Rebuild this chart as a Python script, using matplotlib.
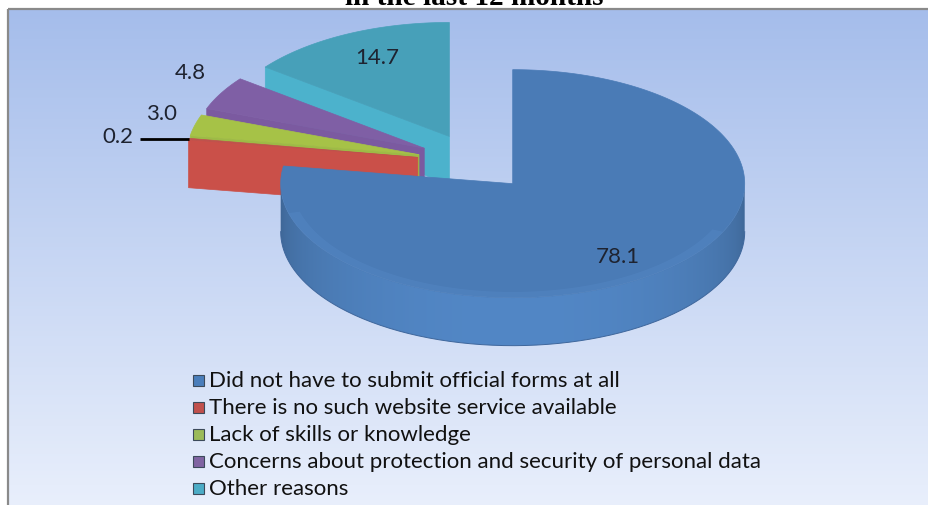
import numpy as np
import matplotlib
matplotlib.use("Agg")
import matplotlib.pyplot as plt
from matplotlib.patches import Polygon, Rectangle
from matplotlib.colors import to_rgb

# ---------------- data ----------------
categories = [
    "Did not have to submit official forms at all",
    "There is no such website service available",
    "Lack of skills or knowledge",
    "Concerns about protection and security of personal data",
    "Other reasons",
]
values = [78.1, 0.2, 3.0, 4.8, 14.7]
value_labels = ["78.1", "0.2", "3.0", "4.8", "14.7"]
title_text = "in the last 12 months"

# ---------------- style / layout ----------------
top_colors = ["#4A7BB6", "#C0504D", "#A6C247", "#7F5FA5", "#47A0B9"]
face_colors = ["#3F6CA6", "#CA5049", "#9DBA46", "#7B5AA0", "#4CB2CC"]
rim_center = ["#5287C6", "#C9504A", "#A0BD48", "#7C5DA2", "#4CB2CC"]
legend_colors = ["#4A7EBB", "#C0504D", "#9BBB59", "#8064A2", "#4BACC6"]

W, H = 929, 506
CX, CY = 475, 163          # pie centre (pixels)
RA, RB = 232, 114          # ellipse semi-axes
DEPTH = 48                 # thickness
EXPLODE = 0.25
# label anchors as (radial factor x, radial factor y) along slice mid-angle
label_pos = {0: (0.70, 0.84), 4: (0.70, 0.78)}
outside_label_xy = {1: (118, 137), 2: (162, 114), 3: (190, 73)}

fig = plt.figure(figsize=(W / 100, H / 100), dpi=100)
ax = fig.add_axes([0, 0, 1, 1])
ax.set_xlim(0, W)
ax.set_ylim(H, 0)
ax.axis("off")

# background gradient panel
ctop = np.array(to_rgb("#A5BDEB"))
cbot = np.array(to_rgb("#EAF0FC"))
g = np.linspace(0, 1, 300)[:, None, None]
bg = np.repeat(ctop + (cbot - ctop) * g, 8, axis=1)
ax.imshow(bg, extent=[8, W + 20, H + 10, 10], aspect="auto", zorder=0, interpolation="nearest")
ax.plot([8, 8], [H + 10, 10], color="#8A8A8A", lw=1.6, zorder=1, solid_capstyle="butt")
ax.plot([8, W + 20], [10, 10], color="#8A8A8A", lw=1.6, zorder=1, solid_capstyle="butt")

# title (cut off at top, like the reference)
t = ax.text(474, 5, title_text, ha="center", va="baseline",
            fontfamily="Liberation Serif", fontweight="bold", fontsize=20, color="black")
r = fig.canvas.get_renderer()
t.set_fontsize(20 * 258 / t.get_window_extent(r).width)

# ---------------- 3D pie ----------------
vals = np.array(values, dtype=float)
fr = vals / vals.sum()
starts = np.concatenate([[0], np.cumsum(fr)[:-1]]) * 360
ends = np.cumsum(fr) * 360
mids = (starts + ends) / 2


def rimpt(cx, cy, th, rr=1.0):
    th = np.radians(th)
    return cx + RA * rr * np.sin(th), cy - RB * rr * np.cos(th)


centers = []
for m in mids:
    mr = np.radians(m)
    centers.append((CX + EXPLODE * RA * np.sin(mr), CY - EXPLODE * RB * np.cos(mr)))

order = np.argsort([c[1] for c in centers])
z = 2
for i in order:
    cx, cy = centers[i]
    t1, t2 = starts[i], ends[i]
    apex = np.array([cx, cy])
    # radial faces
    if np.sin(np.radians(t1)) < -1e-6:
        p = np.array(rimpt(cx, cy, t1))
        poly = [apex, p, p + [0, DEPTH], apex + [0, DEPTH]]
        ax.add_patch(Polygon(poly, closed=True, fc=face_colors[i], ec=face_colors[i], lw=0.5, zorder=z))
    if np.sin(np.radians(t2)) > 1e-6:
        p = np.array(rimpt(cx, cy, t2))
        poly = [apex, p, p + [0, DEPTH], apex + [0, DEPTH]]
        ax.add_patch(Polygon(poly, closed=True, fc=face_colors[i], ec=face_colors[i], lw=0.5, zorder=z))
    # outer rim (front half only)
    a0, a1 = max(t1, 90), min(t2, 270)
    if a1 > a0:
        th = np.linspace(a0, a1, 200)
        xs, ys = rimpt(cx, cy, th)
        pts = np.concatenate([np.c_[xs, ys], np.c_[xs[::-1], ys[::-1] + DEPTH]])
        rim_patch = Polygon(pts, closed=True, fc="none", ec="none", zorder=z)
        ax.add_patch(rim_patch)
        u = np.linspace(-1, 1, 400)
        base = np.array(to_rgb(rim_center[i]))
        f = 0.70 + 0.30 * np.clip(1 - u ** 2, 0, 1) ** 0.35
        row = np.clip(base[None, :] * f[:, None], 0, 1)[None, :, :]
        grad = np.repeat(row, 6, axis=0)
        im = ax.imshow(grad, extent=[cx - RA - 2, cx + RA + 2, cy + RB + DEPTH + 4, cy - RB - 4],
                       aspect="auto", zorder=z, interpolation="bilinear")
        im.set_clip_path(rim_patch)
        ax.plot(xs, ys + DEPTH, color="#3F679C", lw=0.7, zorder=z)
    # top face
    th = np.linspace(t1, t2, max(3, int((t2 - t1) * 2)))
    xs, ys = rimpt(cx, cy, th)
    pts = np.concatenate([[apex], np.c_[xs, ys]])
    ax.add_patch(Polygon(pts, closed=True, fc=top_colors[i], ec=top_colors[i], lw=0.5, zorder=z + 0.5))
    # soft bevel highlight on the front edge of the big slice
    if a1 > a0:
        th = np.linspace(max(t1, 115), min(t2, 255), 150)
        xo, yo = rimpt(cx, cy, th, 1.0)
        xi, yi = rimpt(cx, cy, th, 0.95)
        pts = np.concatenate([np.c_[xo, yo], np.c_[xi[::-1], yi[::-1]]])
        ax.add_patch(Polygon(pts, closed=True, fc="#5A8ECD", ec="none", alpha=0.3, zorder=z + 0.6))
    z += 1

# ---------------- value labels ----------------
lab_font = dict(fontfamily="Lato", fontsize=16, color="#1E2330")
for i, lab in enumerate(value_labels):
    cx, cy = centers[i]
    if i in label_pos:
        kx, ky = label_pos[i]
        mr = np.radians(mids[i])
        x = cx + RA * kx * np.sin(mr)
        y = cy - RB * ky * np.cos(mr)
        ax.text(x, y, lab, ha="center", va="center", zorder=50, **lab_font)
    else:
        x, y = outside_label_xy[i]
        ax.text(x, y, lab, ha="center", va="center", zorder=50, **lab_font)

# leader line for the tiny slice
px, py = rimpt(centers[1][0], centers[1][1], mids[1])
ax.plot([outside_label_xy[1][0] + 22, px], [py, py], color="black", lw=2, zorder=51,
        solid_capstyle="butt")

# ---------------- legend ----------------
leg_y0, leg_dy = 381, 27
texts = []
for k, (cat, col) in enumerate(zip(categories, legend_colors)):
    y = leg_y0 + leg_dy * k
    ax.add_patch(Rectangle((193, y - 5.5), 11, 11, fc=col, ec="#3C4A5A", lw=0.8, zorder=60))
    texts.append(ax.text(209, y, cat, ha="left", va="center", fontfamily="Lato",
                         fontsize=15, color="#111111", zorder=60))
w = texts[3].get_window_extent(r).width
fs = 15 * 553 / w
for tt in texts:
    tt.set_fontsize(fs)

ax.set_xlim(0, W)
ax.set_ylim(H, 0)
fig.savefig("out.png", dpi=100)
